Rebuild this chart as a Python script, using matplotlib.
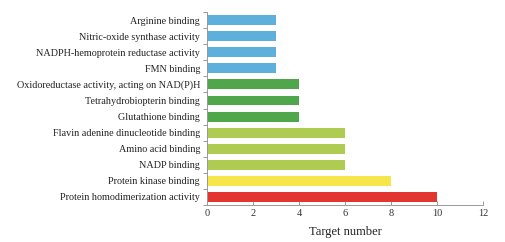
import matplotlib
matplotlib.use("Agg")
import matplotlib.pyplot as plt
import numpy as np

categories = [
    "Protein homodimerization activity",
    "Protein kinase binding",
    "NADP binding",
    "Amino acid binding",
    "Flavin adenine dinucleotide binding",
    "Glutathione binding",
    "Tetrahydrobiopterin binding",
    "Oxidoreductase activity, acting on NAD(P)H",
    "FMN binding",
    "NADPH-hemoprotein reductase activity",
    "Nitric-oxide synthase activity",
    "Arginine binding",
]
values = [10, 8, 6, 6, 6, 4, 4, 4, 3, 3, 3, 3]
colors = ["#E2352F", "#F6E64B", "#AECB52", "#AECB52", "#AECB52",
          "#4FA64B", "#4FA64B", "#4FA64B",
          "#5DB0DC", "#5DB0DC", "#5DB0DC", "#5DB0DC"]

plt.rcParams['font.family'] = ['Liberation Serif', 'DejaVu Serif']

fig = plt.figure(figsize=(5.05, 2.42), dpi=100)
ax = fig.add_axes([0.41, 0.153, 0.546, 0.797])
y = np.arange(len(categories))
ax.barh(y, values, height=0.62, color=colors)
ax.set_ylim(-0.5, len(categories) - 0.5)
ax.set_xlim(0, 12)
ax.set_xticks(np.arange(0, 13, 2))
ax.set_yticks(y)
ax.set_yticklabels(categories, fontsize=7.3, color='#222222')
ax.set_yticks(np.arange(-0.5, len(categories), 1), minor=True)
ax.tick_params(axis='y', which='major', length=0, pad=5)
ax.tick_params(axis='y', which='minor', length=3, width=0.6, color='#888888')
ax.tick_params(axis='x', direction='in', length=3, width=0.6, color='#888888',
               labelsize=7.5, pad=3, labelcolor='#333333')
ax.set_xlabel("Target number", fontsize=9, labelpad=6, color='#222222')
for s in ['top', 'right']:
    ax.spines[s].set_visible(False)
for s in ['left', 'bottom']:
    ax.spines[s].set_linewidth(0.7)
    ax.spines[s].set_color('#999999')

fig.savefig("out.png", dpi=100)
